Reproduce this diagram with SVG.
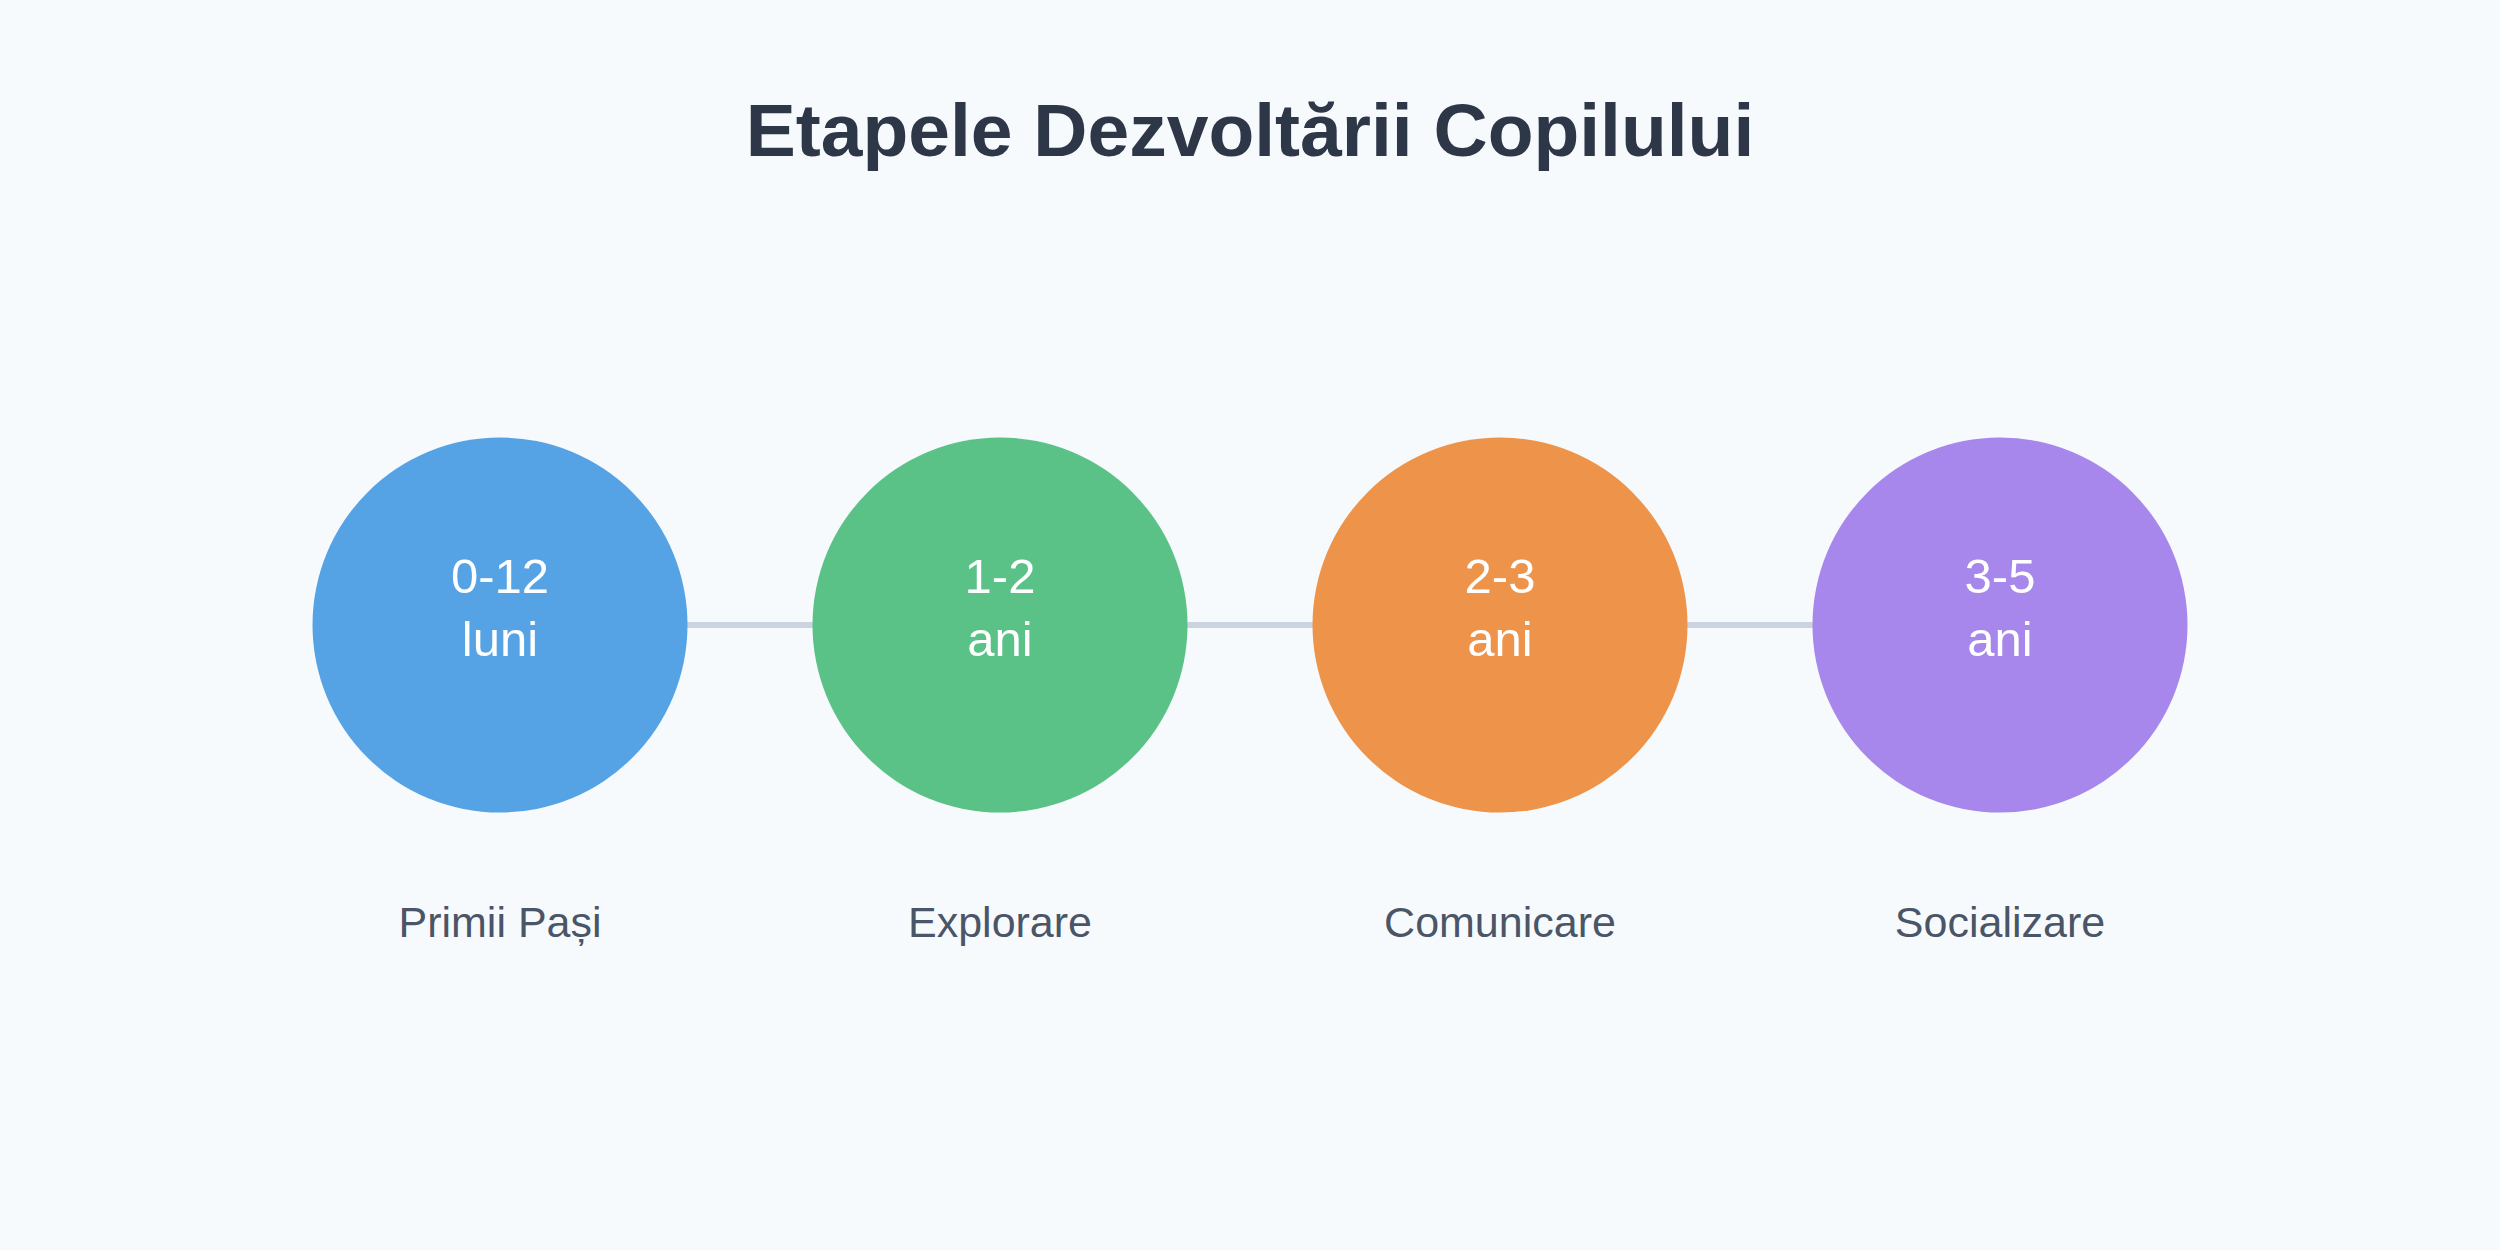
<svg xmlns="http://www.w3.org/2000/svg" width="2500" height="1250" viewBox="0 0 2500 1250">
<style>
.title{font-family:"Liberation Sans",Arial,sans-serif;font-size:75px;font-weight:bold;fill:#2d3748;text-anchor:middle}
.num{font-family:"Liberation Sans",Arial,sans-serif;font-size:49px;fill:#ffffff;text-anchor:middle}
.lbl{font-family:"Liberation Sans",Arial,sans-serif;font-size:43px;fill:#4a5568;text-anchor:middle}
.conn{stroke:#cbd5e0;stroke-width:6;fill:none}
</style>
<rect width="2500" height="1250" fill="#f7fafc"/>
<text class="title" x="1250" y="156">Etapele Dezvoltării Copilului</text>
<g id="connectors">
<line class="conn" x1="687" y1="625" x2="813" y2="625"/>
<line class="conn" x1="1187" y1="625" x2="1313" y2="625"/>
<line class="conn" x1="1687" y1="625" x2="1813" y2="625"/>
</g>
<g id="node1">
<circle cx="500" cy="625" r="187.5" fill="#55a3e4"/>
<text class="num" x="500" y="593">0-12</text>
<text class="num" x="500" y="656">luni</text>
<text class="lbl" x="500" y="937">Primii Pași</text>
</g>
<g id="node2">
<circle cx="1000" cy="625" r="187.5" fill="#5bc287"/>
<text class="num" x="1000" y="593">1-2</text>
<text class="num" x="1000" y="656">ani</text>
<text class="lbl" x="1000" y="937">Explorare</text>
</g>
<g id="node3">
<circle cx="1500" cy="625" r="187.5" fill="#ee944a"/>
<text class="num" x="1500" y="593">2-3</text>
<text class="num" x="1500" y="656">ani</text>
<text class="lbl" x="1500" y="937">Comunicare</text>
</g>
<g id="node4">
<circle cx="2000" cy="625" r="187.5" fill="#a787eb"/>
<text class="num" x="2000" y="593">3-5</text>
<text class="num" x="2000" y="656">ani</text>
<text class="lbl" x="2000" y="937">Socializare</text>
</g>
</svg>
